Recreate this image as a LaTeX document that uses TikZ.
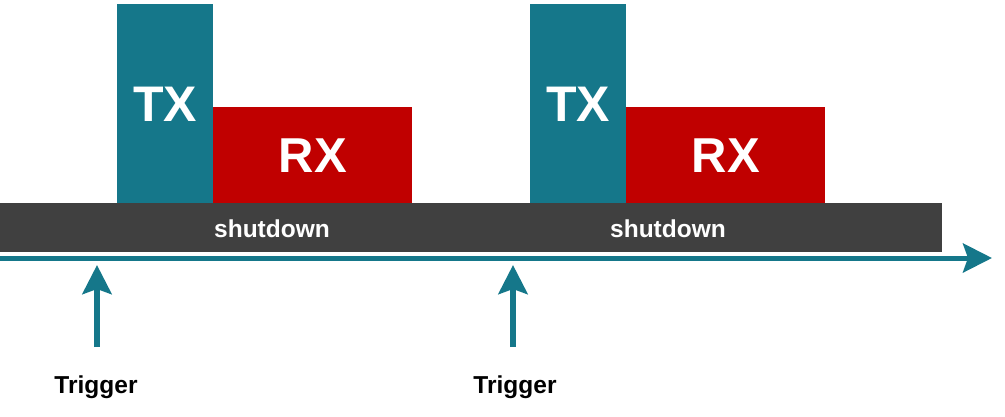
\documentclass[tikz,border=0pt]{standalone}
\usepackage{fontspec}
\setmainfont{Liberation Sans}
\usetikzlibrary{arrows.meta}
\definecolor{teal1}{RGB}{21,119,138}
\definecolor{red1}{RGB}{192,0,0}
\definecolor{dark1}{RGB}{64,64,64}
\tikzset{
  txbox/.style={fill=teal1, draw=none, inner sep=0pt, minimum width=96pt, minimum height=199pt, text=white, font=\bfseries\fontsize{50}{50}\selectfont},
  rxbox/.style={fill=red1, draw=none, inner sep=0pt, minimum width=199pt, minimum height=96pt, text=white, font=\bfseries\fontsize{49}{49}\selectfont},
  barbox/.style={fill=dark1, draw=none, inner sep=0pt, minimum width=942pt, minimum height=49pt},
  barlabel/.style={text=white, inner sep=0pt, font=\bfseries\fontsize{24.5}{24.5}\selectfont},
  triglabel/.style={text=black, inner sep=0pt, font=\bfseries\fontsize{24.5}{24.5}\selectfont},
  tealarrow/.style={draw=teal1, line width=6pt, -{Stealth[length=29pt, width=29pt, inset=5pt]}},
  axisarrow/.style={draw=teal1, line width=5pt, -{Stealth[length=29pt, width=29pt, inset=5pt]}}
}
\begin{document}
\begin{tikzpicture}[x=1pt, y=-1pt]
\useasboundingbox (0,0) rectangle (1005,416);
% shutdown bar
\node[barbox] (bar) at (471,227.5) {};
\node[barlabel] (sd1) at (272,229) {shutdown};
\node[barlabel] (sd2) at (668,229) {shutdown};
% TX / RX boxes
\node[txbox, anchor=south west] (tx1) at (117,203) {};
\node[text=white, inner sep=0pt, font=\bfseries\fontsize{50}{50}\selectfont] (tx1t) at (165,104) {TX};
\node[rxbox, anchor=south west] (rx1) at (213,203) {};
\node[text=white, inner sep=0pt, font=\bfseries\fontsize{49}{49}\selectfont] (rx1t) at (313,156) {RX};
\node[txbox, anchor=south west] (tx2) at (530,203) {};
\node[text=white, inner sep=0pt, font=\bfseries\fontsize{50}{50}\selectfont] (tx2t) at (578,104) {TX};
\node[rxbox, anchor=south west] (rx2) at (626,203) {};
\node[text=white, inner sep=0pt, font=\bfseries\fontsize{49}{49}\selectfont] (rx2t) at (726,156) {RX};
% time axis
\coordinate (axs) at (0,258);
\coordinate (axe) at (992,258);
\draw[axisarrow] (axs) -- (axe);
% triggers
\node[triglabel] (trig1) at (96,387) {Trigger};
\node[triglabel] (trig2) at (515,387) {Trigger};
\coordinate (a1s) at (97,347);
\coordinate (a1e) at (97,265);
\coordinate (a2s) at (513,347);
\coordinate (a2e) at (513,265);
\draw[tealarrow] (a1s) -- (a1e);
\draw[tealarrow] (a2s) -- (a2e);
\end{tikzpicture}
\end{document}
